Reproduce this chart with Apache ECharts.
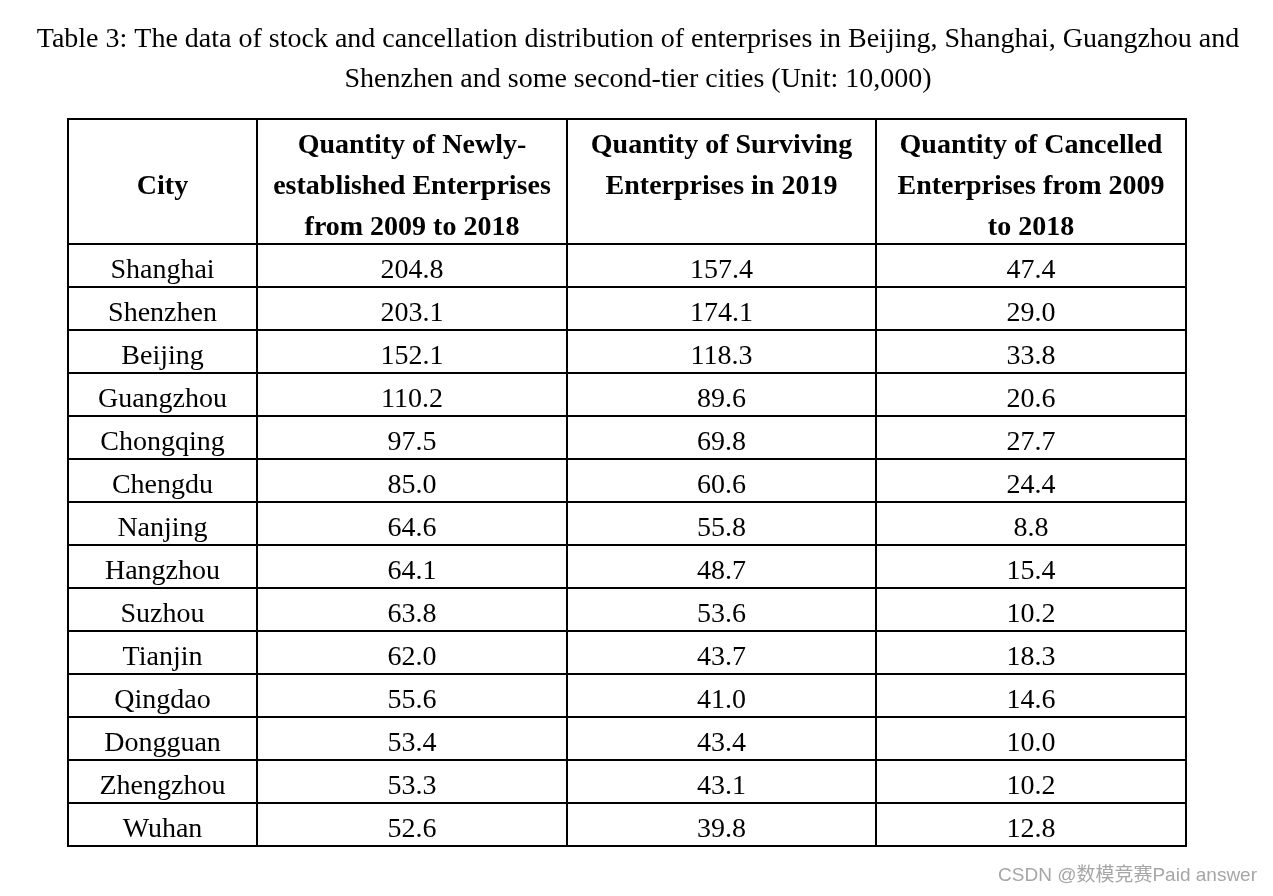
<!DOCTYPE html>
<html>
<head>
<meta charset="utf-8">
<script src="https://cdn.jsdelivr.net/npm/echarts@6/dist/echarts.min.js"></script>
<style>html,body{margin:0;padding:0;background:#fff;}#main{width:1273px;height:896px;}</style>
</head>
<body>
<div id="main"></div>
<script>
// ---- data ----
const titleLines = [
  'Table 3: The data of stock and cancellation distribution of enterprises in Beijing, Shanghai, Guangzhou and',
  'Shenzhen and some second-tier cities (Unit: 10,000)'
];
const headers = [
  'City',
  'Quantity of Newly-\nestablished Enterprises\nfrom 2009 to 2018',
  'Quantity of Surviving\nEnterprises in 2019',
  'Quantity of Cancelled\nEnterprises from 2009\nto 2018'
];
const cities = ['Shanghai','Shenzhen','Beijing','Guangzhou','Chongqing','Chengdu','Nanjing','Hangzhou','Suzhou','Tianjin','Qingdao','Dongguan','Zhengzhou','Wuhan'];
const newlyEstablished = ['204.8','203.1','152.1','110.2','97.5','85.0','64.6','64.1','63.8','62.0','55.6','53.4','53.3','52.6'];
const surviving2019 = ['157.4','174.1','118.3','89.6','69.8','60.6','55.8','48.7','53.6','43.7','41.0','43.4','43.1','39.8'];
const cancelled = ['47.4','29.0','33.8','20.6','27.7','24.4','8.8','15.4','10.2','18.3','14.6','10.0','10.2','12.8'];
const watermark = 'CSDN @数模竞赛Paid answer';

// ---- layout (not data) ----
const colEdges = [0, 189, 499, 808, 1118];
const headerH = 125, rowH = 43;
const rowEdges = [0];
for (let i = 0; i <= cities.length; i++) rowEdges.push(headerH + rowH * i);
const totalH = rowEdges[rowEdges.length - 1];

const cellData = [];
const cellText = [];
headers.forEach((h, c) => { cellData.push([c, 0]); cellText.push(h); });
const cols = [cities, newlyEstablished, surviving2019, cancelled];
cities.forEach((_, r) => {
  cols.forEach((arr, c) => { cellData.push([c, r + 1]); cellText.push(arr[r]); });
});

const serif = '"Liberation Serif", "Times New Roman", "DejaVu Serif", serif';
const FS = 28;

function renderItem(params, api) {
  const c = api.value(0), r = api.value(1);
  const p0 = api.coord([colEdges[c], rowEdges[r]]);
  const p1 = api.coord([colEdges[c + 1], rowEdges[r + 1]]);
  const text = cellText[params.dataIndex];
  const isHeader = r === 0;
  const cx = (p0[0] + p1[0]) / 2;
  const multi = isHeader && text.indexOf('\n') >= 0;
  return {
    type: 'group',
    children: [
      { type: 'rect', shape: { x: p0[0], y: p0[1], width: p1[0] - p0[0], height: p1[1] - p0[1] },
        style: { fill: '#fff', stroke: '#000', lineWidth: 2 } },
      { type: 'text', x: cx, y: multi ? p0[1] + 6 : (p0[1] + p1[1]) / 2 + 5,
        style: { text: text, align: 'center', verticalAlign: multi ? 'top' : 'middle',
          fontFamily: serif, fontSize: FS, fontWeight: isHeader ? 'bold' : 'normal',
          lineHeight: 41, fill: '#000' } }
    ]
  };
}

const chart = echarts.init(document.getElementById('main'));
chart.setOption({
  backgroundColor: '#fff',
  animation: false,
  grid: { left: 68, top: 119, width: 1118, height: totalH },
  xAxis: { type: 'value', min: 0, max: colEdges[colEdges.length - 1], show: false },
  yAxis: { type: 'value', min: 0, max: totalH, inverse: true, show: false },
  series: [{ type: 'custom', renderItem: renderItem, data: cellData, encode: { x: 0, y: 1 }, clip: false }],
  graphic: titleLines.map((t, i) => ({
    type: 'text', x: 638, y: 40 + 40 * i,
    style: { text: t, align: 'center', verticalAlign: 'middle', fill: '#000',
      fontSize: FS, fontFamily: serif }
  })).concat([{ type: 'text', x: 1257, y: 876,
    style: { text: watermark, align: 'right', verticalAlign: 'middle', fill: '#a6a6a6',
      fontSize: 19, fontFamily: '"Liberation Sans", Arial, "Noto Sans CJK SC", sans-serif' } }])
});
</script>
</body>
</html>
